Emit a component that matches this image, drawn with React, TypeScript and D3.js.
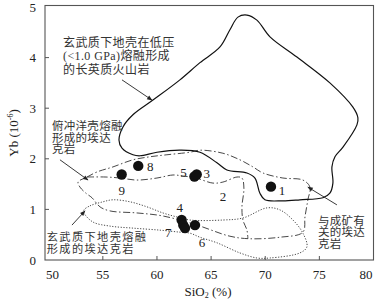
import React from 'react';
import * as d3 from 'd3';

// axis ticks
const xTicks = [50, 55, 60, 65, 70, 75, 80];
const yTicks = [0, 1, 2, 3, 4, 5];

// solid field: felsic volcanics from low-pressure melting of basaltic lower crust
const lowPressureField: [number, number][] = [
  [56.49, 2.37], [56.77, 2.21], [57.78, 2.08], [58.43, 2.06], [60.0, 2.13], [62.12, 2.17],
  [63.97, 2.13], [65.54, 1.92], [66.46, 1.78], [68.31, 1.72], [69.05, 1.62], [69.51, 1.32],
  [69.97, 1.19], [71.63, 1.17], [73.2, 1.19], [75.33, 1.23], [75.97, 1.32], [76.25, 1.52],
  [76.16, 1.84], [76.44, 2.04], [77.18, 2.23], [78.47, 2.67], [78.56, 2.81], [78.1, 3.02],
  [75.97, 3.5], [72.93, 4.01], [70.44, 4.41], [69.23, 4.74], [68.31, 4.84], [67.48, 4.8],
  [66.74, 4.55], [65.82, 4.21], [63.97, 3.9], [62.12, 3.56], [59.63, 3.16], [57.78, 2.87],
  [56.86, 2.63],
];

// dash-dot field (ore-related / slab adakites)
const adakiteField: [number, number][] = [
  [52.71, 1.54], [53.54, 1.64], [54.46, 1.74], [55.94, 1.84], [57.78, 1.98], [59.35, 2.04],
  [60.92, 2.08], [63.05, 2.13], [63.97, 2.17], [66.09, 2.11], [67.66, 1.98], [68.86, 1.84],
  [69.79, 1.72], [71.63, 1.62], [73.48, 1.58], [74.13, 1.44], [73.94, 1.19], [73.67, 0.85],
  [73.48, 0.55], [71.36, 0.45], [68.59, 0.42], [66.74, 0.47], [63.69, 0.69], [60.55, 0.87],
  [58.15, 0.93], [55.66, 0.97], [54.74, 1.05], [54.0, 1.23], [53.44, 1.32], [52.89, 1.44],
];

// inner dash-dot boundary (field 2)
const innerBoundary: [number, number][] = [
  [53.54, 1.64], [55.29, 1.64], [56.58, 1.62], [58.15, 1.58], [60.0, 1.62], [61.48, 1.68],
  [62.4, 1.66], [63.6, 1.62], [65.17, 1.52], [66.09, 1.54], [67.39, 1.64], [67.85, 1.62],
  [68.03, 1.42], [67.85, 1.05], [67.94, 0.79], [68.31, 0.59], [68.4, 0.42],
];

// dotted field: adakites from melting of basaltic lower crust
const lowerCrustField: [number, number][] = [
  [53.26, 0.99], [53.81, 1.07], [55.01, 1.15], [55.94, 1.19], [57.51, 1.15], [59.08, 1.05],
  [60.55, 0.93], [61.85, 0.85], [63.05, 0.79], [66.09, 0.79], [67.94, 0.83], [70.16, 1.03],
  [71.36, 0.99], [72.56, 0.79], [73.48, 0.53], [73.85, 0.26], [73.2, 0.14], [70.43, 0.04],
  [69.23, 0.04], [67.66, 0.14], [65.54, 0.34], [63.97, 0.45], [63.05, 0.53], [62.12, 0.55],
  [60.28, 0.59], [57.78, 0.63], [55.66, 0.67], [54.09, 0.75], [53.26, 0.93],
];

// samples
const sampleSiO2 = [70.53, 58.27, 56.74, 63.46, 63.67, 62.28, 62.43, 62.59, 63.51];
const sampleYb = [1.45, 1.86, 1.69, 1.65, 1.69, 0.79, 0.69, 0.63, 0.69];
const sampleLabels = ['1', '8', '9', '5', '3', '4', '7', '', '6'];

const fieldLabelText = ['2'];
const fieldLabelSiO2 = [66.09];
const fieldLabelYb = [1.25];

const annotationLines = [
  ['玄武质下地壳在低压', '(<1.0 GPa)熔融形成', '的长英质火山岩'],
  ['俯冲洋壳熔融', '形成的埃达', '克岩'],
  ['玄武质下地壳熔融', '形成的埃达克岩'],
  ['与成矿有', '关的埃达', '克岩'],
];
const annotationSiO2 = [51.32, 50.3, 49.82, 74.87];
const annotationYb = [4.21, 2.56, 0.385, 0.7];
const arrowFrom: [number, number][] = [[56.77, 3.56], [51.04, 1.98], [52.15, 0.69], [76.62, 1.09]];
const arrowTo: [number, number][] = [[59.54, 3.16], [53.63, 1.58], [53.35, 0.97], [73.94, 1.44]];

const W = 377;
const H = 304;

export default function App() {
  const x = d3.scaleLinear().domain([50, 80]).range([48.7, 373.5]);
  const y = d3.scaleLinear().domain([0, 5]).range([260, 7]);
  const frame = { left: 45, right: 373.5, top: 5.5, bottom: 260 };

  const closed = d3.line<[number, number]>()
    .x(d => x(d[0])).y(d => y(d[1]))
    .curve(d3.curveCatmullRomClosed.alpha(0.5));
  const open = d3.line<[number, number]>()
    .x(d => x(d[0])).y(d => y(d[1]))
    .curve(d3.curveCatmullRom.alpha(0.5));

  const serif = "'Liberation Serif', 'Times New Roman', serif";
  const cjk = "'Liberation Serif', 'Noto Sans CJK SC', serif";
  const ink = '#222';

  // label offsets (px) relative to each point
  const labelOffset: Record<string, [number, number]> = {
    '1': [11, 4], '8': [12, 1], '9': [0, 16], '5': [-11, -4], '3': [10, -1],
    '4': [-2, -13], '7': [-15, 7], '6': [7, 17],
  };
  const annFont = [12, 11.5, 11.2, 11.5];
  const annSpacing = [0.4, 0.3, 1.4, 0.3];
  const annLeading = [13.5, 11.2, 12.4, 11.5];

  return (
    <svg width={W} height={H} style={{ position: 'absolute', left: 0, top: 0, background: '#fff' }}>
      <defs>
        <marker id="arr" viewBox="0 0 10 10" refX="9" refY="5" markerWidth="7" markerHeight="6" orient="auto">
          <path d="M0,1 L10,5 L0,9 z" fill={ink} />
        </marker>
      </defs>

      {/* fields */}
      <path d={closed(lowerCrustField) ?? ''} fill="none" stroke="#333" strokeWidth={0.9} strokeDasharray="1.2,1.6" />
      <path d={closed(adakiteField) ?? ''} fill="none" stroke="#333" strokeWidth={0.9} strokeDasharray="7,2.5,1.5,2.5" />
      <path d={open(innerBoundary) ?? ''} fill="none" stroke="#333" strokeWidth={0.9} strokeDasharray="7,2.5,1.5,2.5" />
      <path d={closed(lowPressureField) ?? ''} fill="none" stroke="#111" strokeWidth={1.2} />

      {/* samples */}
      {sampleSiO2.map((s, i) => (
        <circle key={'p' + i} cx={x(s)} cy={y(sampleYb[i])} r={5.2} fill="#111" />
      ))}
      {sampleLabels.map((lab, i) => lab ? (
        <text key={'l' + i} x={x(sampleSiO2[i]) + labelOffset[lab][0]} y={y(sampleYb[i]) + labelOffset[lab][1] + 4.5}
          textAnchor="middle" fontFamily={serif} fontSize={13} fill={ink}>{lab}</text>
      ) : null)}
      {fieldLabelText.map((t, i) => (
        <text key={'f' + i} x={x(fieldLabelSiO2[i])} y={y(fieldLabelYb[i]) + 4.5} textAnchor="middle"
          fontFamily={serif} fontSize={13} fill={ink}>{t}</text>
      ))}

      {/* annotations */}
      {annotationLines.map((lines, i) => (
        <g key={'a' + i}>
          {lines.map((ln, j) => (
            <text key={j} x={x(annotationSiO2[i])} y={y(annotationYb[i]) + j * annLeading[i]} fontFamily={cjk}
              fontSize={annFont[i]} letterSpacing={annSpacing[i]} fill="#333">{ln}</text>
          ))}
        </g>
      ))}
      {arrowFrom.map((f, i) => (
        <line key={'ar' + i} x1={x(f[0])} y1={y(f[1])} x2={x(arrowTo[i][0])} y2={y(arrowTo[i][1])}
          stroke={ink} strokeWidth={0.9} markerEnd="url(#arr)" />
      ))}

      {/* frame and ticks */}
      <rect x={frame.left} y={frame.top} width={frame.right - frame.left} height={frame.bottom - frame.top}
        fill="none" stroke="#555" strokeWidth={1.1} />
      {xTicks.slice(1, -1).map(t => (
        <line key={'xt' + t} x1={x(t)} x2={x(t)} y1={frame.bottom} y2={frame.bottom - 4} stroke="#555" />
      ))}
      {yTicks.slice(1, -1).map(t => (
        <line key={'yt' + t} x1={frame.left} x2={frame.left + 4} y1={y(t)} y2={y(t)} stroke="#555" />
      ))}
      {xTicks.map((t, i) => (
        <text key={'xl' + t} x={i === 0 ? frame.left + 1 : i === xTicks.length - 1 ? frame.right - 1 : x(t)} y={279}
          textAnchor={i === 0 ? 'start' : i === xTicks.length - 1 ? 'end' : 'middle'}
          fontFamily={serif} fontSize={13} fill={ink}>{t}</text>
      ))}
      {yTicks.map(t => (
        <text key={'yl' + t} x={36} y={y(t) + 4.5} textAnchor="end" fontFamily={serif} fontSize={13} fill={ink}>{t}</text>
      ))}

      {/* axis titles */}
      <text x={208} y={296} textAnchor="middle" fontFamily={serif} fontSize={13} fill={ink}>
        SiO<tspan fontSize={8} dy={2}>2</tspan><tspan dy={-2}> (%)</tspan>
      </text>
      <text transform="translate(18,133) rotate(-90)" textAnchor="middle" fontFamily={serif} fontSize={13} fill={ink}>
        Yb (10<tspan fontSize={8} dy={-5}>-6</tspan><tspan dy={5}>)</tspan>
      </text>
    </svg>
  );
}
